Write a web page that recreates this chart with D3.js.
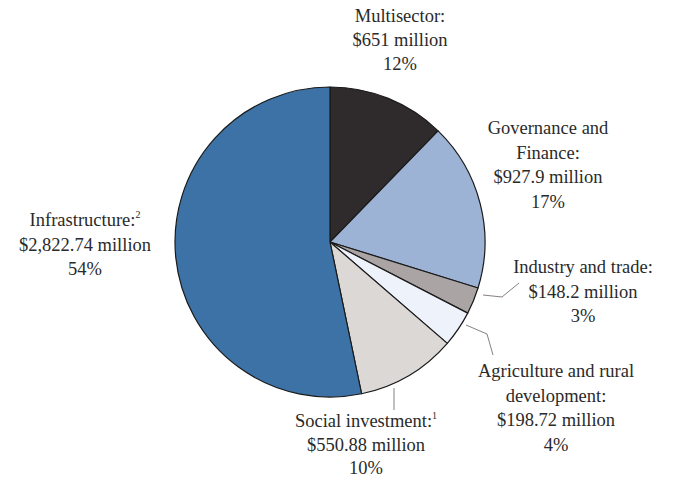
<!DOCTYPE html>
<html><head><meta charset="utf-8">
<script src="https://cdn.jsdelivr.net/npm/d3@7"></script>
<style>
html,body{margin:0;padding:0;background:#fff;}
text{font-family:"Liberation Serif","Times New Roman",serif;fill:#2a2a2a;}
</style></head>
<body>
<svg id="chart" width="675" height="481"></svg>
<script>
const categories = ["Multisector","Governance and Finance","Industry and trade","Agriculture and rural development","Social investment","Infrastructure"];
const values = [651, 927.9, 148.2, 198.72, 550.88, 2822.74];
const valueLabels = ["$651 million","$927.9 million","$148.2 million","$198.72 million","$550.88 million","$2,822.74 million"];
const percentLabels = ["12%","17%","3%","4%","10%","54%"];
const nameLines = [["Multisector:"],["Governance and","Finance:"],["Industry and trade:"],["Agriculture and rural","development:"],["Social investment:"],["Infrastructure:"]];
const footnotes = ["","","","","1","2"];
const colors = ["#2f2b2d","#9db3d6","#aaa4a4","#eef2fb","#dcd8d6","#3d72a6"];

const svg = d3.select("#chart");
const cx = 330, cy = 242, R = 155;
const g = svg.append("g").attr("transform",`translate(${cx},${cy})`);
const pie = d3.pie().sort(null).value(d=>d)(values);
const arc = d3.arc().innerRadius(0).outerRadius(R);
g.selectAll("path").data(pie).join("path")
  .attr("d",arc)
  .attr("fill",(d,i)=>colors[i])
  .attr("stroke","#1a1a1a").attr("stroke-width",1.2).attr("stroke-linejoin","round");

// label positions (center x, first baseline), line spacing
const labelPos = [[400,22],[548,134],[583,273],[556,377],[366,427],[85,226]];
const lh = [24,24.5,24.5,24.7,23.5,24.5];
labelPos.forEach((p,i)=>{
  const lines = nameLines[i].concat([valueLabels[i], percentLabels[i]]);
  lines.forEach((ln,j)=>{
    const t = svg.append("text").attr("x",p[0]).attr("y",p[1]+j*lh[i])
      .attr("text-anchor","middle").attr("font-size",18.5).text(ln);
    if (j===nameLines[i].length-1 && footnotes[i]) {
      t.append("tspan").attr("font-size",10).attr("dy",-8).text(footnotes[i]);
    }
  });
});

// leader lines
const leaders = [
  [[483,295],[502,297],[519,283]],
  [[466,325],[487,334],[493,355]],
  [[394,388],[394,410]]
];
const line = d3.line();
svg.selectAll("path.leader").data(leaders).join("path").attr("class","leader")
  .attr("d",line).attr("fill","none").attr("stroke","#8a8080").attr("stroke-width",1);
</script>
</body></html>
